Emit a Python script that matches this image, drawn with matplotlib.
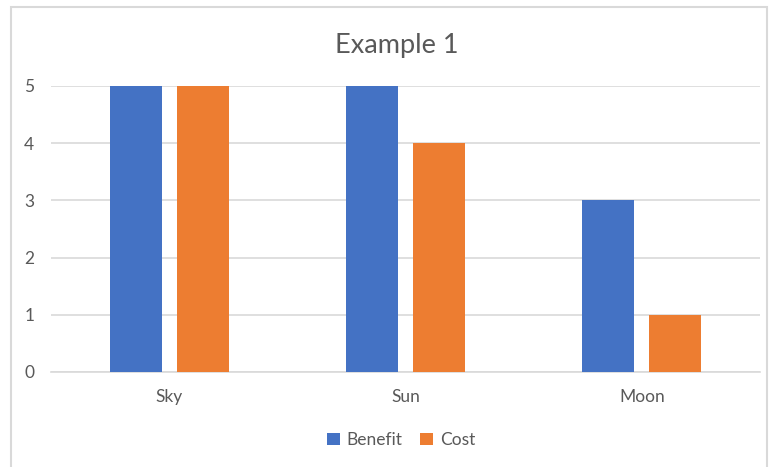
import numpy as np
import matplotlib.pyplot as plt
from matplotlib.patches import Rectangle

categories = ["Sky", "Sun", "Moon"]
benefit = [5, 5, 3]
cost = [5, 4, 1]

blue = "#4472c4"
orange = "#ed7d31"
grey = "#595959"
line = "#d9d9d9"

plt.rcParams['font.family'] = ['Lato', 'DejaVu Sans']

fig = plt.figure(figsize=(7.69, 4.67), dpi=100)
ax = fig.add_axes([51/769, 1-372/467, (760-51)/769, (372-86)/467])

x = np.arange(len(categories))
w = 0.22
off = 0.142
ax.bar(x - off, benefit, w, color=blue, label="Benefit", zorder=3)
ax.bar(x + off, cost, w, color=orange, label="Cost", zorder=3)

ax.set_xlim(-0.5, 2.5)
ax.set_ylim(0, 5)
ax.set_yticks(range(6))
ax.set_xticks(x)
ax.set_xticklabels(categories)
ax.tick_params(length=0, labelsize=12.5, colors=grey)
ax.tick_params(axis='y', pad=12)
ax.tick_params(axis='x', pad=12)
ax.grid(axis='y', color=line, linewidth=1.2, zorder=0)
for s in ['top', 'right', 'left']:
	ax.spines[s].set_visible(False)
ax.spines['bottom'].set_color(line)
ax.spines['bottom'].set_linewidth(1.2)

fig.text(397/769, 1-45/467, "Example 1", ha='center', va='center', fontsize=19.5, color=grey)

fig.legend(loc='center', bbox_to_anchor=(401/769, 1-440/467), ncol=2, frameon=False,
	fontsize=12.5, labelcolor=grey, handlelength=0.75, handleheight=0.75,
	handletextpad=0.4, columnspacing=1.0)

fig.patches.append(Rectangle((11/769, -0.05), (767-11)/769, 1.05-7/467,
	transform=fig.transFigure, fill=False, edgecolor=line, linewidth=1.5))

fig.savefig("out.png", dpi=100)
